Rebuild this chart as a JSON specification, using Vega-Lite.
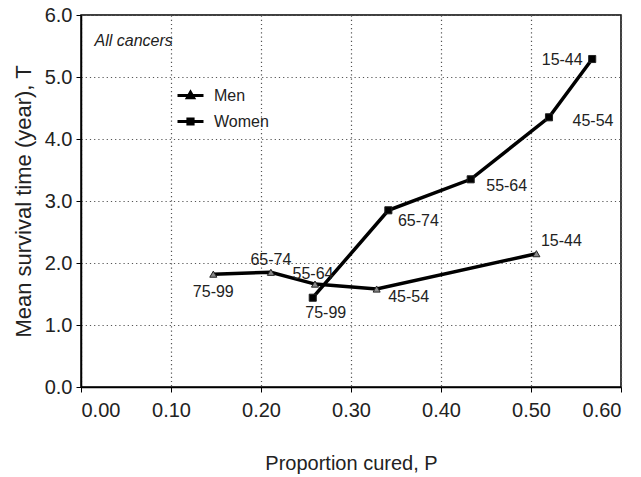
{
  "$schema": "https://vega.github.io/schema/vega-lite/v6.json",
  "autosize": {"type": "none"},
  "padding": {"left": 81, "top": 15, "right": 20, "bottom": 90},
  "width": 540,
  "height": 372,
  "background": "white",
  "config": {
    "font": "Liberation Sans",
    "view": {"stroke": "black", "strokeWidth": 1.5},
    "axis": {
      "domainColor": "black",
      "domainWidth": 1.5,
      "tickColor": "black",
      "tickSize": 5,
      "labelColor": "#222",
      "titleColor": "#222",
      "labelFont": "Liberation Sans",
      "titleFont": "Liberation Sans",
      "labelFontSize": 20,
      "titleFontSize": 20,
      "titleFontWeight": "normal",
      "gridColor": "#555",
      "gridDash": [1.2, 3],
      "gridWidth": 1.2,
      "gridOpacity": 1
    },
    "text": {"font": "Liberation Sans", "fontSize": 16, "color": "#222"}
  },
  "datasets": {
    "pts": [
      {"series": "Men", "age": "75-99", "p": 0.147, "t": 1.82},
      {"series": "Men", "age": "65-74", "p": 0.211, "t": 1.85},
      {"series": "Men", "age": "55-64", "p": 0.26, "t": 1.66},
      {"series": "Men", "age": "45-54", "p": 0.3285, "t": 1.58},
      {"series": "Men", "age": "15-44", "p": 0.506, "t": 2.15},
      {"series": "Women", "age": "75-99", "p": 0.2575, "t": 1.44},
      {"series": "Women", "age": "65-74", "p": 0.3415, "t": 2.85},
      {"series": "Women", "age": "55-64", "p": 0.433, "t": 3.35},
      {"series": "Women", "age": "45-54", "p": 0.52, "t": 4.35},
      {"series": "Women", "age": "15-44", "p": 0.568, "t": 5.29}
    ],
    "note": [{"label": "All cancers", "p": 0.015, "t": 5.58}]
  },
  "data": {"name": "pts"},
  "encoding": {
    "x": {
      "field": "p", "type": "quantitative",
      "scale": {"domain": [0, 0.6], "nice": false},
      "axis": {"values": [0, 0.1, 0.2, 0.3, 0.4, 0.5, 0.6], "format": ".2f", "title": "Proportion cured, P", "labelPadding": 8, "titlePadding": 33}
    },
    "y": {
      "field": "t", "type": "quantitative",
      "scale": {"domain": [0, 6], "nice": false},
      "axis": {"values": [0, 1, 2, 3, 4, 5, 6], "format": ".1f", "title": "Mean survival time (year), T", "titleFontSize": 22, "labelPadding": 4, "titlePadding": 9}
    }
  },
  "layer": [
    {
      "mark": {"type": "line", "color": "black", "strokeWidth": 3.5},
      "encoding": {"detail": {"field": "series"}}
    },
    {
      "mark": {"type": "point", "filled": true, "size": 50, "stroke": "#222", "strokeWidth": 1, "opacity": 1},
      "encoding": {
        "shape": {"field": "series", "type": "nominal", "scale": {"domain": ["Men", "Women"], "range": ["triangle-up", "square"]}, "legend": null},
        "fill": {"field": "series", "type": "nominal", "scale": {"domain": ["Men", "Women"], "range": ["#8a8a8a", "black"]}, "legend": null}
      }
    },
    {
      "mark": {"type": "point", "filled": false, "opacity": 0, "size": 676, "stroke": "black", "strokeWidth": 3},
      "encoding": {
        "shape": {
          "field": "series", "type": "nominal",
          "scale": {"domain": ["Men", "Women"], "range": ["M-1,0H1M-0.24,0.18L0,-0.24L0.24,0.18Z", "M-1,0H1M-0.2,-0.2H0.2V0.2H-0.2Z"]},
          "legend": {
            "title": null,
            "orient": "none",
            "legendX": 95,
            "legendY": 66,
            "padding": 0,
            "symbolSize": 676,
            "labelFontSize": 16,
            "labelFont": "Liberation Sans",
            "labelColor": "#222",
            "labelOffset": 9,
            "rowPadding": 3,
            "symbolOpacity": 1,
            "symbolStrokeColor": "black",
            "symbolStrokeWidth": 3,
            "encode": {
              "symbols": {
                "update": {
                  "stroke": {"value": "black"},
                  "strokeWidth": {"value": 3},
                  "opacity": {"value": 1},
                  "strokeOpacity": {"value": 1}
                }
              }
            }
          }
        }
      }
    },
    {"transform": [{"filter": "datum.series=='Men' && datum.age=='75-99'"}], "mark": {"type": "text", "dx": 0, "dy": 18, "baseline": "middle"}, "encoding": {"text": {"field": "age"}}},
    {"transform": [{"filter": "datum.series=='Men' && datum.age=='65-74'"}], "mark": {"type": "text", "dx": 0, "dy": -12, "baseline": "middle"}, "encoding": {"text": {"field": "age"}}},
    {"transform": [{"filter": "datum.series=='Men' && datum.age=='55-64'"}], "mark": {"type": "text", "dx": -2, "dy": -10, "baseline": "middle"}, "encoding": {"text": {"field": "age"}}},
    {"transform": [{"filter": "datum.series=='Men' && datum.age=='45-54'"}], "mark": {"type": "text", "dx": 32, "dy": 8, "baseline": "middle"}, "encoding": {"text": {"field": "age"}}},
    {"transform": [{"filter": "datum.series=='Men' && datum.age=='15-44'"}], "mark": {"type": "text", "dx": 25, "dy": -13, "baseline": "middle"}, "encoding": {"text": {"field": "age"}}},
    {"transform": [{"filter": "datum.series=='Women' && datum.age=='75-99'"}], "mark": {"type": "text", "dx": 13, "dy": 15, "baseline": "middle"}, "encoding": {"text": {"field": "age"}}},
    {"transform": [{"filter": "datum.series=='Women' && datum.age=='65-74'"}], "mark": {"type": "text", "dx": 30, "dy": 11, "baseline": "middle"}, "encoding": {"text": {"field": "age"}}},
    {"transform": [{"filter": "datum.series=='Women' && datum.age=='55-64'"}], "mark": {"type": "text", "dx": 36, "dy": 7, "baseline": "middle"}, "encoding": {"text": {"field": "age"}}},
    {"transform": [{"filter": "datum.series=='Women' && datum.age=='45-54'"}], "mark": {"type": "text", "dx": 44, "dy": 4, "baseline": "middle"}, "encoding": {"text": {"field": "age"}}},
    {"transform": [{"filter": "datum.series=='Women' && datum.age=='15-44'"}], "mark": {"type": "text", "dx": -30, "dy": 1, "baseline": "middle"}, "encoding": {"text": {"field": "age"}}},
    {
      "data": {"name": "note"},
      "mark": {"type": "text", "align": "left", "baseline": "middle", "fontStyle": "italic", "fontSize": 16},
      "encoding": {"text": {"field": "label"}}
    }
  ],
  "resolve": {"scale": {"shape": "independent", "fill": "independent"}}
}
